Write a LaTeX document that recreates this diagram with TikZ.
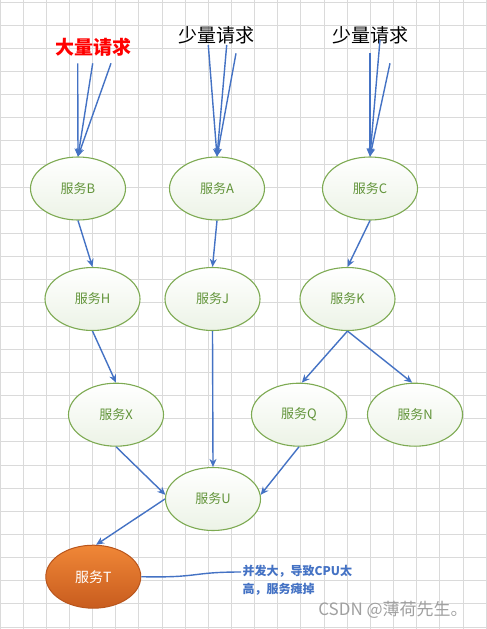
\documentclass[tikz,border=0pt]{standalone}
\usepackage{fontspec}
\setmainfont{Noto Sans CJK SC}
\usetikzlibrary{shapes.geometric,arrows.meta}
\definecolor{gridc}{RGB}{218,218,218}
\definecolor{edgeb}{RGB}{68,114,196}
\definecolor{ringg}{RGB}{125,170,82}
\definecolor{textg}{RGB}{98,148,58}
\definecolor{fillg}{RGB}{236,243,230}
\definecolor{orgA}{RGB}{240,135,55}
\definecolor{orgB}{RGB}{200,92,30}
\definecolor{orgD}{RGB}{185,85,28}
\definecolor{wmark}{RGB}{160,160,160}
\tikzset{
  svc/.style={ellipse, draw=ringg, line width=1.1pt, minimum width=95pt, minimum height=63pt,
    inner sep=0pt, top color=white, bottom color=fillg, text=textg, font=\fontsize{13}{15}\selectfont},
  hot/.style={ellipse, draw=orgD, line width=1pt, minimum width=95pt, minimum height=63pt,
    inner sep=0pt, top color=orgA, bottom color=orgB, text=white, font=\fontsize{14}{16}\selectfont},
  flow/.style={draw=edgeb, line width=1.4pt, -{Stealth[length=8pt,width=7pt,inset=2.5pt]}},
  plain/.style={draw=edgeb, line width=1.4pt},
  reqtext/.style={font=\fontsize{19}{21}\selectfont, inner sep=0pt},
}
\begin{document}
\begin{tikzpicture}[x=1pt,y=-1pt]
\useasboundingbox (0,0) rectangle (487,629);
\fill[white] (0,0) rectangle (487,629);
% grid
\foreach \k in {0,...,21} {\draw[gridc, line width=1pt] ({23.15*\k},0) -- ({23.15*\k},629);}
\foreach \k in {0,...,27} {\draw[gridc, line width=1pt] (0,{2+23.15*\k}) -- (487,{2+23.15*\k});}

% nodes
\node[svc] (B) at (78,188.5) {服务B};
\node[svc] (A) at (217,188.5) {服务A};
\node[svc] (C) at (370,188.5) {服务C};
\node[svc] (H) at (92.5,299) {服务H};
\node[svc] (J) at (212.5,299) {服务J};
\node[svc] (K) at (347.5,299) {服务K};
\node[svc] (X) at (116,414.7) {服务X};
\node[svc] (Q) at (299,414.7) {服务Q};
\node[svc] (N) at (415,414.7) {服务N};
\node[svc] (U) at (213,499) {服务U};
\node[hot] (T) at (93.3,576.7) {服务T};

% request labels
\node[reqtext, text=red, font=\fontsize{19}{21}\selectfont\bfseries] (rb) at (93,47) {大量请求};
\node[reqtext, text=black] (ra) at (216.7,35) {少量请求};
\node[reqtext, text=black] (rc) at (370,35) {少量请求};

% request arrow starts
\coordinate (b1) at (77.7,63.3);
\coordinate (b2) at (92.7,63.3);
\coordinate (b3) at (111,63.3);
\coordinate (a1) at (208.3,45);
\coordinate (a2) at (226.7,45);
\coordinate (a3) at (236,53.3);
\coordinate (c1) at (370,53.3);
\coordinate (c2) at (380,40);
\coordinate (c3) at (390,63.3);
\foreach \s in {b1,b2,b3} {\draw[flow] (\s) -- (B.north);}
\foreach \s in {a1,a2,a3} {\draw[flow] (\s) -- (A.north);}
\foreach \s in {c1,c2,c3} {\draw[flow] (\s) -- (C.north);}

% edges
\draw[flow] (B.south) -- (H.north);
\draw[flow] (A.south) -- (J.north);
\draw[flow] (C.south) -- (K.north);
\draw[flow] (H.south) -- (X.north);
\draw[flow] (J.south) -- (U.north);
\draw[flow] (K.south) -- (Q.85);
\draw[flow] (K.south) -- (N.95);
\draw[flow] (X.south) -- (U.175);
\draw[flow] (Q.south) -- (U.5);
\draw[flow] (U.west) -- (T.85);

% description
\node[anchor=north west, align=left, inner sep=0pt, text=edgeb,
      font=\fontsize{12}{18.4}\selectfont\bfseries] (desc) at (242.5,565) {并发大，导致CPU太\\高，服务瘫掉};
\coordinate (dl) at (241,572);
\draw[plain] (T.east) .. controls (200,578) and (190,572) .. (dl);

% watermark
\node[text=wmark, font=\fontsize{17}{19}\selectfont, inner sep=0pt] (wm) at (393,610) {CSDN @薄荷先生。};
\end{tikzpicture}
\end{document}
